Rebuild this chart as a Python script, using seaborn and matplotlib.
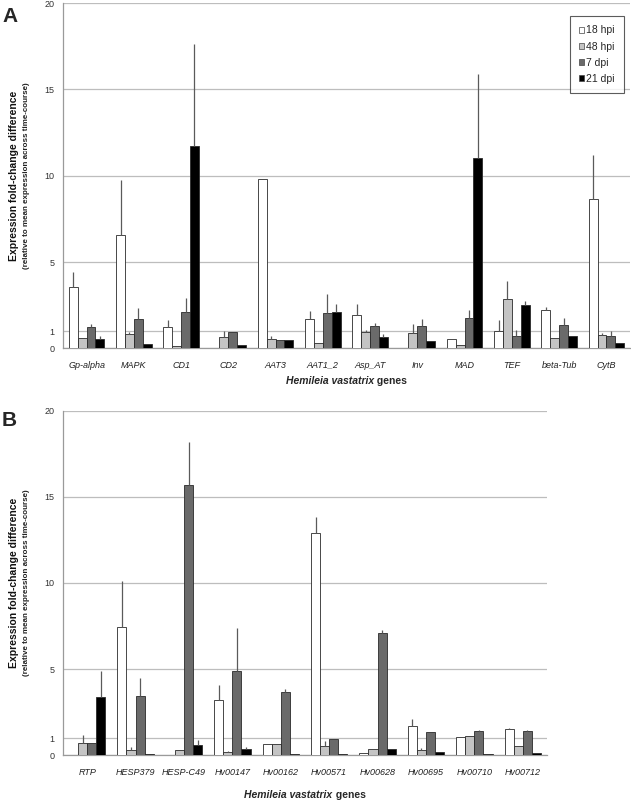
import numpy as np
import pandas as pd
import matplotlib
matplotlib.use("Agg")
import matplotlib.pyplot as plt
import seaborn as sns

# ---- data ----
timepoints = ["18 hpi", "48 hpi", "7 dpi", "21 dpi"]

genes_a = ["Gp-alpha", "MAPK", "CD1", "CD2", "AAT3", "AAT1_2", "Asp_AT",
           "Inv", "MAD", "TEF", "beta-Tub", "CytB"]
mean_a = {
    "18 hpi": [3.57, 6.54, 1.24, 0.0, 9.79, 1.68, 1.95, 0.0, 0.52, 1.02, 2.22, 8.67],
    "48 hpi": [0.60, 0.83, 0.14, 0.68, 0.54, 0.33, 0.93, 0.89, 0.17, 2.88, 0.60, 0.75],
    "7 dpi":  [1.22, 1.68, 2.10, 0.95, 0.46, 2.03, 1.27, 1.29, 1.76, 0.71, 1.35, 0.71],
    "21 dpi": [0.56, 0.25, 11.70, 0.19, 0.48, 2.10, 0.64, 0.44, 11.00, 2.53, 0.69, 0.33],
}
# upper error (amount above the bar)
err_a = {
    "18 hpi": [0.83, 3.21, 0.40, 0.0, 0.0, 0.48, 0.62, 0.0, 0.0, 0.62, 0.17, 2.51],
    "48 hpi": [0.0, 0.14, 0.0, 0.32, 0.15, 0.0, 0.11, 0.50, 0.0, 1.04, 0.0, 0.14],
    "7 dpi":  [0.19, 0.64, 0.80, 0.0, 0.04, 1.12, 0.22, 0.39, 0.46, 0.35, 0.39, 0.27],
    "21 dpi": [0.15, 0.0, 5.95, 0.0, 0.0, 0.45, 0.17, 0.0, 4.87, 0.21, 0.0, 0.0],
}

genes_b = ["RTP", "HESP379", "HESP-C49", "Hv00147", "Hv00162", "Hv00571",
           "Hv00628", "Hv00695", "Hv00710", "Hv00712"]
mean_b = {
    "18 hpi": [0.0, 7.45, 0.04, 3.21, 0.68, 12.88, 0.12, 1.70, 1.04, 1.53],
    "48 hpi": [0.73, 0.31, 0.29, 0.19, 0.64, 0.52, 0.35, 0.33, 1.10, 0.54],
    "7 dpi":  [0.73, 3.46, 15.71, 4.89, 3.66, 0.97, 7.08, 1.37, 1.39, 1.39],
    "21 dpi": [3.37, 0.06, 0.60, 0.39, 0.06, 0.08, 0.37, 0.21, 0.06, 0.12],
}
err_b = {
    "18 hpi": [0.0, 2.69, 0.0, 0.85, 0.0, 0.97, 0.0, 0.41, 0.0, 0.03],
    "48 hpi": [0.47, 0.17, 0.0, 0.03, 0.0, 0.33, 0.0, 0.11, 0.0, 0.0],
    "7 dpi":  [0.0, 1.03, 2.47, 2.52, 0.21, 0.0, 0.19, 0.0, 0.06, 0.10],
    "21 dpi": [1.52, 0.0, 0.29, 0.07, 0.0, 0.0, 0.0, 0.0, 0.0, 0.0],
}

colors = ["#ffffff", "#c4c4c4", "#6a6a6a", "#000000"]


def long_frame(genes, means, errs):
    rows = []
    for tp in timepoints:
        for g, m, e in zip(genes, means[tp], errs[tp]):
            rows.append({"gene": g, "time": tp, "value": m, "err": e})
    return pd.DataFrame(rows)


sns.set_style("white")
plt.rcParams["font.family"] = ["Liberation Sans", "DejaVu Sans"]

fig = plt.figure(figsize=(6.31, 8.0), dpi=100)
ax_a = fig.add_axes([0.0998, 0.5646, 0.8986, 0.4315])
ax_b = fig.add_axes([0.0998, 0.0559, 0.7670, 0.4307])


def draw_panel(ax, genes, means, errs, legend):
    df = long_frame(genes, means, errs)
    sns.barplot(data=df, x="gene", y="value", hue="time", order=genes,
                hue_order=timepoints, palette=colors, errorbar=None,
                width=0.75, edgecolor="#2a2a2a", linewidth=0.6,
                legend=legend, ax=ax, zorder=3)
    # upward-only error bars, positioned from the bars seaborn drew
    for tp, cont in zip(timepoints, ax.containers):
        sub = df[df["time"] == tp].set_index("gene").loc[genes]
        xs = [p.get_x() + p.get_width() / 2 for p in cont.patches]
        ys = [p.get_height() for p in cont.patches]
        up = sub["err"].to_numpy()
        mask = up > 0
        ax.errorbar(np.array(xs)[mask], np.array(ys)[mask],
                    yerr=[np.zeros(mask.sum()), up[mask]], fmt="none",
                    ecolor="#5a5a5a", elinewidth=0.9, capsize=0, zorder=4)

    ax.set_ylim(0, 20)
    ax.set_xlim(-0.5, len(genes) - 0.5)
    ax.set_yticks([0, 1, 5, 10, 15, 20])
    ax.yaxis.grid(True, color="#bdbdbd", linewidth=0.9, zorder=0)
    ax.xaxis.grid(False)
    ax.set_axisbelow(True)
    for s in ["top", "right"]:
        ax.spines[s].set_visible(False)
    for s in ["left", "bottom"]:
        ax.spines[s].set_color("#9a9a9a")
        ax.spines[s].set_linewidth(0.9)
    ax.tick_params(axis="y", length=0, labelsize=6.5, labelcolor="#333333", pad=6)
    ax.tick_params(axis="x", which="major", length=0, labelsize=6.5,
                   labelcolor="#222222", pad=9)
    ax.set_xticks(np.arange(len(genes) + 1) - 0.5, minor=True)
    ax.tick_params(axis="x", which="minor", length=3, color="#9a9a9a", width=0.8)
    for lbl in ax.get_xticklabels():
        lbl.set_fontstyle("italic")
    ax.set_xlabel("")
    ax.set_ylabel("")

    if legend:
        handles, labels = ax.get_legend_handles_labels()
        leg = ax.legend(handles, labels, loc="upper right",
                        bbox_to_anchor=(0.998, 0.978), fontsize=7.5,
                        frameon=True, fancybox=False, edgecolor="#333333",
                        handlelength=0.5, handleheight=0.5,
                        handletextpad=0.15, labelspacing=0.6,
                        borderpad=0.9)
        leg.get_frame().set_linewidth(0.8)
        for h in leg.legend_handles:
            h.set_edgecolor("#444444")
            h.set_linewidth(0.5)


draw_panel(ax_a, genes_a, mean_a, err_a, True)
draw_panel(ax_b, genes_b, mean_b, err_b, False)

# y labels (two lines, different sizes)
for ax in (ax_a, ax_b):
    bb = ax.get_position()
    yc = (bb.y0 + bb.y1) / 2
    fig.text(14 / 631, yc, "Expression fold-change difference", rotation=90,
             ha="center", va="center", fontsize=7.5, fontweight="bold",
             color="#111111")
    fig.text(26.5 / 631, yc, "(relative to mean expression across time-course)",
             rotation=90, ha="center", va="center", fontsize=5.8,
             fontweight="bold", color="#222222")

# panel letters
fig.text(2 / 631, 1 - 16 / 800, "A", fontsize=15, fontweight="bold",
         ha="left", va="center")
fig.text(2 / 631, 1 - 420 / 800, "B", fontsize=15, fontweight="bold",
         ha="left", va="center")

# x labels: italic species name + plain "genes", centred under each panel
fig.canvas.draw()
renderer = fig.canvas.get_renderer()
for ax, ypix in ((ax_a, 381), (ax_b, 795)):
    bb = ax.get_position()
    xc = (bb.x0 + bb.x1) / 2
    yf = 1 - ypix / 800
    t1 = fig.text(0, yf, "Hemileia vastatrix", fontsize=7.5, fontweight="bold",
                  fontstyle="italic", ha="left", va="center")
    t2 = fig.text(0, yf, "\u00a0genes", fontsize=7.5, fontweight="bold",
                  ha="left", va="center")
    w1 = t1.get_window_extent(renderer).width / fig.bbox.width
    w2 = t2.get_window_extent(renderer).width / fig.bbox.width
    x0 = xc - (w1 + w2) / 2
    t1.set_x(x0)
    t2.set_x(x0 + w1)

fig.savefig("out.png", dpi=100)
